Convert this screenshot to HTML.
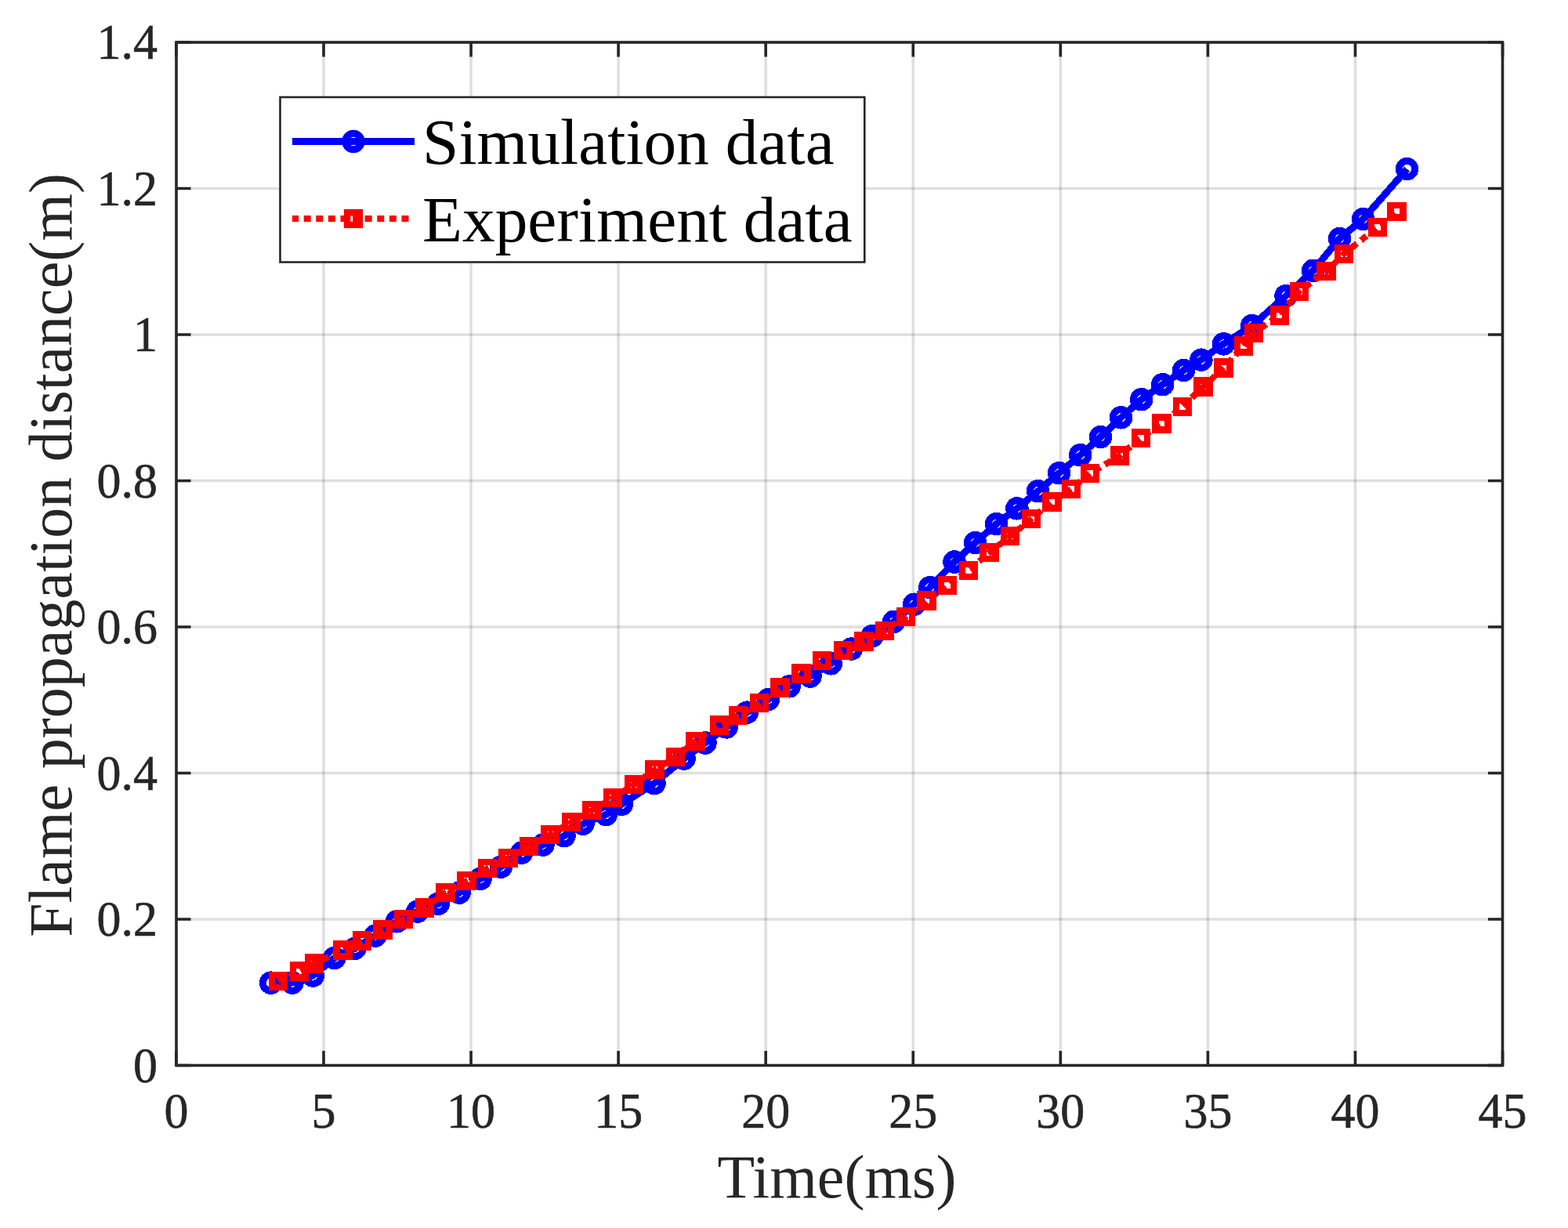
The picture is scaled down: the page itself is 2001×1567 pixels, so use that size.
<!DOCTYPE html><html><head><meta charset="utf-8"><title>Flame propagation distance</title>
<style>html,body{margin:0;padding:0;background:#fff;}svg{display:block;}text{font-family:"Liberation Serif","Times New Roman",serif;}</style></head><body>
<svg width="2001" height="1567" viewBox="0 0 2001 1567">
<rect x="0" y="0" width="2001" height="1567" fill="#fff"/>
<g stroke="#262626" stroke-opacity="0.15" stroke-width="3.6" fill="none"><path d="M413.00 54.0V1359.5"/><path d="M601.07 54.0V1359.5"/><path d="M789.14 54.0V1359.5"/><path d="M977.21 54.0V1359.5"/><path d="M1165.28 54.0V1359.5"/><path d="M1353.35 54.0V1359.5"/><path d="M1541.42 54.0V1359.5"/><path d="M1729.49 54.0V1359.5"/><path d="M225.0 1173.00H1917.5"/><path d="M225.0 986.50H1917.5"/><path d="M225.0 800.00H1917.5"/><path d="M225.0 613.50H1917.5"/><path d="M225.0 427.00H1917.5"/><path d="M225.0 240.50H1917.5"/></g>
<path d="M224.93 1359.5v-18.5M224.93 54.0v18.5M413.00 1359.5v-18.5M413.00 54.0v18.5M601.07 1359.5v-18.5M601.07 54.0v18.5M789.14 1359.5v-18.5M789.14 54.0v18.5M977.21 1359.5v-18.5M977.21 54.0v18.5M1165.28 1359.5v-18.5M1165.28 54.0v18.5M1353.35 1359.5v-18.5M1353.35 54.0v18.5M1541.42 1359.5v-18.5M1541.42 54.0v18.5M1729.49 1359.5v-18.5M1729.49 54.0v18.5M1917.56 1359.5v-18.5M1917.56 54.0v18.5M225.0 1359.50h18.5M1917.5 1359.50h-18.5M225.0 1173.00h18.5M1917.5 1173.00h-18.5M225.0 986.50h18.5M1917.5 986.50h-18.5M225.0 800.00h18.5M1917.5 800.00h-18.5M225.0 613.50h18.5M1917.5 613.50h-18.5M225.0 427.00h18.5M1917.5 427.00h-18.5M225.0 240.50h18.5M1917.5 240.50h-18.5M225.0 54.00h18.5M1917.5 54.00h-18.5" stroke="#262626" stroke-width="3.6" fill="none"/>
<rect x="225.0" y="54.0" width="1692.5" height="1305.5" fill="none" stroke="#262626" stroke-width="3.6"/>
<g shape-rendering="crispEdges">
<polyline points="345.6,1254.1 373,1254 399.4,1245 426.8,1222.5 452.8,1210.4 478.9,1194 506.5,1175.8 532.7,1163.1 559.1,1153.4 586.1,1139.2 613.1,1121.3 639.4,1106.1 665.6,1088.3 693,1078 720,1066.5 744,1051.3 773.3,1039.5 793.3,1026.3 835,999.5 873.1,968.0 900.0,948.0 927.1,927.9 953.4,909.1 980.5,892.5 1007.1,875.8 1034,863 1060.3,846.8 1086.4,828.0 1113.1,811.5 1140.7,793.3 1166.6,771.2 1186.7,749.7 1218,717 1244.5,692.5 1271.5,668.6 1297.9,648.8 1324.6,626.7 1351.6,603.7 1378.7,580.7 1404.6,557.6 1430.6,532.8 1456.7,509.7 1483.7,490.7 1510.6,472.5 1532.9,459.2 1561.5,438.9 1597.9,415.5 1641.0,377.6 1675.6,345.3 1709.5,304.5 1739.6,279.5 1795.6,215.6" fill="none" stroke="#00f" stroke-width="9" stroke-linejoin="round"/>
<g fill="none" stroke="#00f" stroke-width="9"><circle cx="345.6" cy="1254.1" r="10.25"/><circle cx="373" cy="1254" r="10.25"/><circle cx="399.4" cy="1245" r="10.25"/><circle cx="426.8" cy="1222.5" r="10.25"/><circle cx="452.8" cy="1210.4" r="10.25"/><circle cx="478.9" cy="1194" r="10.25"/><circle cx="506.5" cy="1175.8" r="10.25"/><circle cx="532.7" cy="1163.1" r="10.25"/><circle cx="559.1" cy="1153.4" r="10.25"/><circle cx="586.1" cy="1139.2" r="10.25"/><circle cx="613.1" cy="1121.3" r="10.25"/><circle cx="639.4" cy="1106.1" r="10.25"/><circle cx="665.6" cy="1088.3" r="10.25"/><circle cx="693" cy="1078" r="10.25"/><circle cx="720" cy="1066.5" r="10.25"/><circle cx="744" cy="1051.3" r="10.25"/><circle cx="773.3" cy="1039.5" r="10.25"/><circle cx="793.3" cy="1026.3" r="10.25"/><circle cx="835" cy="999.5" r="10.25"/><circle cx="873.1" cy="968.0" r="10.25"/><circle cx="900.0" cy="948.0" r="10.25"/><circle cx="927.1" cy="927.9" r="10.25"/><circle cx="953.4" cy="909.1" r="10.25"/><circle cx="980.5" cy="892.5" r="10.25"/><circle cx="1007.1" cy="875.8" r="10.25"/><circle cx="1034" cy="863" r="10.25"/><circle cx="1060.3" cy="846.8" r="10.25"/><circle cx="1086.4" cy="828.0" r="10.25"/><circle cx="1113.1" cy="811.5" r="10.25"/><circle cx="1140.7" cy="793.3" r="10.25"/><circle cx="1166.6" cy="771.2" r="10.25"/><circle cx="1186.7" cy="749.7" r="10.25"/><circle cx="1218" cy="717" r="10.25"/><circle cx="1244.5" cy="692.5" r="10.25"/><circle cx="1271.5" cy="668.6" r="10.25"/><circle cx="1297.9" cy="648.8" r="10.25"/><circle cx="1324.6" cy="626.7" r="10.25"/><circle cx="1351.6" cy="603.7" r="10.25"/><circle cx="1378.7" cy="580.7" r="10.25"/><circle cx="1404.6" cy="557.6" r="10.25"/><circle cx="1430.6" cy="532.8" r="10.25"/><circle cx="1456.7" cy="509.7" r="10.25"/><circle cx="1483.7" cy="490.7" r="10.25"/><circle cx="1510.6" cy="472.5" r="10.25"/><circle cx="1532.9" cy="459.2" r="10.25"/><circle cx="1561.5" cy="438.9" r="10.25"/><circle cx="1597.9" cy="415.5" r="10.25"/><circle cx="1641.0" cy="377.6" r="10.25"/><circle cx="1675.6" cy="345.3" r="10.25"/><circle cx="1709.5" cy="304.5" r="10.25"/><circle cx="1739.6" cy="279.5" r="10.25"/><circle cx="1795.6" cy="215.6" r="10.25"/></g>
<polyline points="355.1,1251.9 382.0,1239.4 401.1,1229.4 437.5,1212.4 462.1,1200.5 488.5,1186.5 515.0,1173.0 542.0,1158.5 568.4,1139.1 595.5,1124.0 622.1,1108.1 648.6,1095.0 675.1,1080.0 702.0,1065.1 729.0,1049.1 755.5,1034.0 782.0,1018.1 809.1,1001.2 835.6,982.1 862.0,966.0 887.6,946.0 918.0,925.5 942.1,913.1 969.0,897.0 995.5,877.5 1022.5,859.5 1049.0,843.3 1075.9,830.1 1102.5,818.5 1129.0,804.9 1156.0,787.0 1182.5,766.5 1209.0,746.9 1235.9,728.0 1262.5,705.0 1289.0,684.3 1316.0,662.3 1342.4,640.5 1367.0,624.0 1391.1,604.0 1429.0,581.5 1456.0,558.9 1482.5,540.5 1509.0,518.9 1535.6,493.5 1561.5,469.4 1587.0,441.5 1600.0,424.9 1632.8,402.5 1658.1,371.9 1692.4,346.2 1714.9,324.0 1757.9,290.0 1782.5,269.8" fill="none" stroke="#f00" stroke-width="8" stroke-dasharray="9 6.6"/>
<g fill="none" stroke="#f00" stroke-width="8.5"><rect x="347.23" y="1244.03" width="15.75" height="15.75"/><rect x="374.12" y="1231.53" width="15.75" height="15.75"/><rect x="393.23" y="1221.53" width="15.75" height="15.75"/><rect x="429.62" y="1204.53" width="15.75" height="15.75"/><rect x="454.23" y="1192.62" width="15.75" height="15.75"/><rect x="480.62" y="1178.62" width="15.75" height="15.75"/><rect x="507.12" y="1165.12" width="15.75" height="15.75"/><rect x="534.12" y="1150.62" width="15.75" height="15.75"/><rect x="560.52" y="1131.22" width="15.75" height="15.75"/><rect x="587.62" y="1116.12" width="15.75" height="15.75"/><rect x="614.23" y="1100.22" width="15.75" height="15.75"/><rect x="640.73" y="1087.12" width="15.75" height="15.75"/><rect x="667.23" y="1072.12" width="15.75" height="15.75"/><rect x="694.12" y="1057.22" width="15.75" height="15.75"/><rect x="721.12" y="1041.22" width="15.75" height="15.75"/><rect x="747.62" y="1026.12" width="15.75" height="15.75"/><rect x="774.12" y="1010.23" width="15.75" height="15.75"/><rect x="801.23" y="993.33" width="15.75" height="15.75"/><rect x="827.73" y="974.23" width="15.75" height="15.75"/><rect x="854.12" y="958.12" width="15.75" height="15.75"/><rect x="879.73" y="938.12" width="15.75" height="15.75"/><rect x="910.12" y="917.62" width="15.75" height="15.75"/><rect x="934.23" y="905.23" width="15.75" height="15.75"/><rect x="961.12" y="889.12" width="15.75" height="15.75"/><rect x="987.62" y="869.62" width="15.75" height="15.75"/><rect x="1014.62" y="851.62" width="15.75" height="15.75"/><rect x="1041.12" y="835.42" width="15.75" height="15.75"/><rect x="1068.03" y="822.23" width="15.75" height="15.75"/><rect x="1094.62" y="810.62" width="15.75" height="15.75"/><rect x="1121.12" y="797.02" width="15.75" height="15.75"/><rect x="1148.12" y="779.12" width="15.75" height="15.75"/><rect x="1174.62" y="758.62" width="15.75" height="15.75"/><rect x="1201.12" y="739.02" width="15.75" height="15.75"/><rect x="1228.03" y="720.12" width="15.75" height="15.75"/><rect x="1254.62" y="697.12" width="15.75" height="15.75"/><rect x="1281.12" y="676.42" width="15.75" height="15.75"/><rect x="1308.12" y="654.42" width="15.75" height="15.75"/><rect x="1334.53" y="632.62" width="15.75" height="15.75"/><rect x="1359.12" y="616.12" width="15.75" height="15.75"/><rect x="1383.22" y="596.12" width="15.75" height="15.75"/><rect x="1421.12" y="573.62" width="15.75" height="15.75"/><rect x="1448.12" y="551.02" width="15.75" height="15.75"/><rect x="1474.62" y="532.62" width="15.75" height="15.75"/><rect x="1501.12" y="511.02" width="15.75" height="15.75"/><rect x="1527.72" y="485.62" width="15.75" height="15.75"/><rect x="1553.62" y="461.52" width="15.75" height="15.75"/><rect x="1579.12" y="433.62" width="15.75" height="15.75"/><rect x="1592.12" y="417.02" width="15.75" height="15.75"/><rect x="1624.92" y="394.62" width="15.75" height="15.75"/><rect x="1650.22" y="364.02" width="15.75" height="15.75"/><rect x="1684.53" y="338.32" width="15.75" height="15.75"/><rect x="1707.03" y="316.12" width="15.75" height="15.75"/><rect x="1750.03" y="282.12" width="15.75" height="15.75"/><rect x="1774.62" y="261.93" width="15.75" height="15.75"/></g>
</g>
<rect x="357.5" y="124.0" width="745.8" height="210.5" fill="#fff" stroke="#262626" stroke-width="2.6"/>
<path d="M373 180.5H529" stroke="#00f" stroke-width="9"/>
<circle cx="451" cy="180.5" r="10.25" fill="none" stroke="#00f" stroke-width="9"/>
<path d="M373 279H522" stroke="#f00" stroke-width="8" stroke-dasharray="9 6.6" stroke-dashoffset="0.9"/>
<rect x="443.125" y="271.125" width="15.75" height="15.75" fill="none" stroke="#f00" stroke-width="8.5"/>
<text x="539" y="209.3" font-size="83.4" fill="#000">Simulation data</text>
<text x="539" y="307.8" font-size="83.4" fill="#000">Experiment data</text>
<text transform="translate(224.93 1438.6) scale(1 1.03)" font-size="62" fill="#262626" stroke="#262626" stroke-width="0.6" text-anchor="middle">0</text>
<text transform="translate(413.00 1438.6) scale(1 1.03)" font-size="62" fill="#262626" stroke="#262626" stroke-width="0.6" text-anchor="middle">5</text>
<text transform="translate(601.07 1438.6) scale(1 1.03)" font-size="62" fill="#262626" stroke="#262626" stroke-width="0.6" text-anchor="middle">10</text>
<text transform="translate(789.14 1438.6) scale(1 1.03)" font-size="62" fill="#262626" stroke="#262626" stroke-width="0.6" text-anchor="middle">15</text>
<text transform="translate(977.21 1438.6) scale(1 1.03)" font-size="62" fill="#262626" stroke="#262626" stroke-width="0.6" text-anchor="middle">20</text>
<text transform="translate(1165.28 1438.6) scale(1 1.03)" font-size="62" fill="#262626" stroke="#262626" stroke-width="0.6" text-anchor="middle">25</text>
<text transform="translate(1353.35 1438.6) scale(1 1.03)" font-size="62" fill="#262626" stroke="#262626" stroke-width="0.6" text-anchor="middle">30</text>
<text transform="translate(1541.42 1438.6) scale(1 1.03)" font-size="62" fill="#262626" stroke="#262626" stroke-width="0.6" text-anchor="middle">35</text>
<text transform="translate(1729.49 1438.6) scale(1 1.03)" font-size="62" fill="#262626" stroke="#262626" stroke-width="0.6" text-anchor="middle">40</text>
<text transform="translate(1917.56 1438.6) scale(1 1.03)" font-size="62" fill="#262626" stroke="#262626" stroke-width="0.6" text-anchor="middle">45</text>
<text transform="translate(201 1380.50) scale(1 1.03)" font-size="62" fill="#262626" stroke="#262626" stroke-width="0.6" text-anchor="end">0</text>
<text transform="translate(201 1194.00) scale(1 1.03)" font-size="62" fill="#262626" stroke="#262626" stroke-width="0.6" text-anchor="end">0.2</text>
<text transform="translate(201 1007.50) scale(1 1.03)" font-size="62" fill="#262626" stroke="#262626" stroke-width="0.6" text-anchor="end">0.4</text>
<text transform="translate(201 821.00) scale(1 1.03)" font-size="62" fill="#262626" stroke="#262626" stroke-width="0.6" text-anchor="end">0.6</text>
<text transform="translate(201 634.50) scale(1 1.03)" font-size="62" fill="#262626" stroke="#262626" stroke-width="0.6" text-anchor="end">0.8</text>
<text transform="translate(201 448.00) scale(1 1.03)" font-size="62" fill="#262626" stroke="#262626" stroke-width="0.6" text-anchor="end">1</text>
<text transform="translate(201 261.50) scale(1 1.03)" font-size="62" fill="#262626" stroke="#262626" stroke-width="0.6" text-anchor="end">1.2</text>
<text transform="translate(201 75.00) scale(1 1.03)" font-size="62" fill="#262626" stroke="#262626" stroke-width="0.6" text-anchor="end">1.4</text>
<text x="1068" y="1528" font-size="78" fill="#262626" text-anchor="middle">Time(ms)</text>
<text transform="translate(91 708.4) rotate(-90)" x="0" y="0" font-size="78" fill="#262626" text-anchor="middle">Flame propagation distance(m)</text>
</svg></body></html>
